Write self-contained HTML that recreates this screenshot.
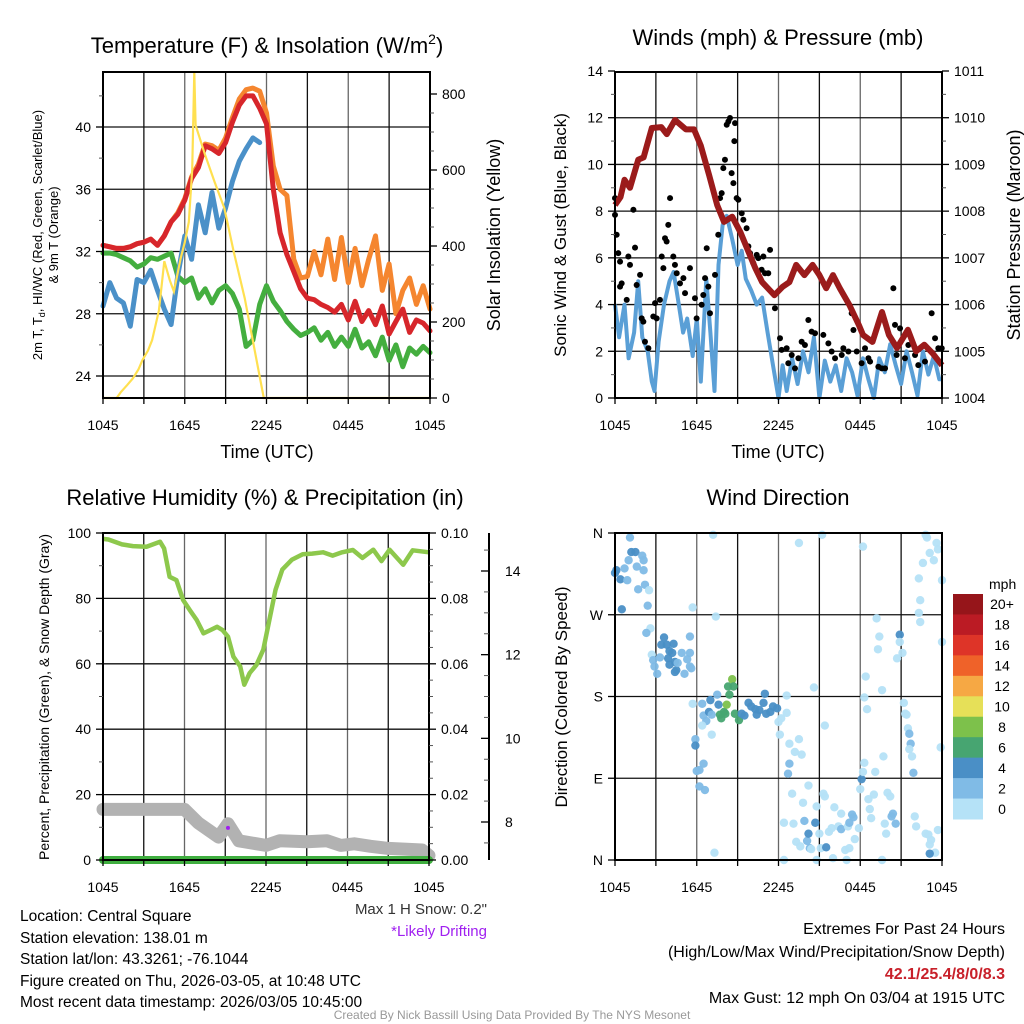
<!DOCTYPE html>
<html><head><meta charset="utf-8"><style>
html,body{margin:0;padding:0;background:#fff;width:1024px;height:1024px;overflow:hidden}
svg{font-family:"Liberation Sans",Arial,sans-serif}
</style></head><body>
<svg id="chart" width="1024" height="1024" viewBox="0 0 1024 1024" xmlns="http://www.w3.org/2000/svg">
<g id="layer-grid"></g>
<g id="layer-data"></g>
<g id="layer-axes"></g>
<g id="layer-text">
<text x="267" y="53" font-size="22" text-anchor="middle">Temperature (F) &amp; Insolation (W/m<tspan font-size="14" dy="-9">2</tspan><tspan dy="9">)</tspan></text>
<text x="778" y="45" font-size="22" text-anchor="middle">Winds (mph) &amp; Pressure (mb)</text>
<text x="265" y="505" font-size="22" text-anchor="middle">Relative Humidity (%) &amp; Precipitation (in)</text>
<text x="778" y="505" font-size="22" text-anchor="middle">Wind Direction</text>
<text x="267" y="458" font-size="18" text-anchor="middle">Time (UTC)</text>
<text x="778" y="458" font-size="18" text-anchor="middle">Time (UTC)</text>
<text transform="translate(42,235) rotate(-90)" font-size="13" text-anchor="middle"><tspan x="0" y="0">2m T, T<tspan font-size="9" dy="3">d</tspan><tspan dy="-3">, HI/WC (Red, Green, Scarlet/Blue)</tspan></tspan><tspan x="0" y="16">&amp; 9m T (Orange)</tspan></text>
<text transform="translate(500,235) rotate(-90)" font-size="18" text-anchor="middle">Solar Insolation (Yellow)</text>
<text transform="translate(566,235) rotate(-90)" font-size="17" text-anchor="middle">Sonic Wind &amp; Gust (Blue, Black)</text>
<text transform="translate(1020,235) rotate(-90)" font-size="18" text-anchor="middle">Station Pressure (Maroon)</text>
<text transform="translate(49,697) rotate(-90)" font-size="14" text-anchor="middle">Percent, Precipitation (Green), &amp; Snow Depth (Gray)</text>
<text transform="translate(567,697) rotate(-90)" font-size="17" text-anchor="middle">Direction (Colored By Speed)</text>
<text x="487" y="914" font-size="15" fill="#333" text-anchor="end">Max 1 H Snow: 0.2"</text>
<text x="487" y="936" font-size="15" fill="#a020f0" text-anchor="end">*Likely Drifting</text>
<g font-size="15.5">
<text x="20" y="921">Location: Central Square</text>
<text x="20" y="943">Station elevation: 138.01 m</text>
<text x="20" y="964">Station lat/lon: 43.3261; -76.1044</text>
<text x="20" y="986">Figure created on Thu, 2026-03-05, at 10:48 UTC</text>
<text x="20" y="1007">Most recent data timestamp: 2026/03/05 10:45:00</text>
</g>
<g font-size="16" text-anchor="end">
<text x="1005" y="934">Extremes For Past 24 Hours</text>
<text x="1005" y="957">(High/Low/Max Wind/Precipitation/Snow Depth)</text>
<text x="1005" y="979" fill="#c8202a" font-weight="bold">42.1/25.4/8/0/8.3</text>
<text x="1005" y="1003">Max Gust: 12 mph On 03/04 at 1915 UTC</text>
</g>
<text x="512" y="1019" font-size="12" fill="#999" text-anchor="middle">Created By Nick Bassill Using Data Provided By The NYS Mesonet</text>
</g>
</svg>
<script>
// ---------- data ----------
const tickHours=[0,6,12,18,24];
const tickLabels=["1045","1645","2245","0445","1045"];
const halfHours=[0,0.5,1,1.5,2,2.5,3,3.5,4,4.5,5,5.5,6,6.5,7,7.5,8,8.5,9,9.5,10,10.5,11,11.5,12,12.5,13,13.5,14,14.5,15,15.5,16,16.5,17,17.5,18,18.5,19,19.5,20,20.5,21,21.5,22,22.5,23,23.5,24];
const tempRed=[32.4,32.3,32.2,32.2,32.3,32.5,32.6,32.8,32.4,33.0,33.9,34.4,35.3,36.7,37.4,38.8,38.6,38.3,39.0,40.3,41.4,42.0,42.0,41.2,40.2,36.0,33.2,31.8,30.7,29.6,29.0,28.9,28.6,28.4,28.1,28.6,27.6,28.8,27.5,28.2,27.3,28.5,26.7,27.5,28.3,26.8,27.6,27.4,26.9];
const temp9m=[32.4,32.3,32.2,32.2,32.3,32.5,32.6,32.8,32.4,33.0,33.9,34.5,35.4,36.8,37.6,38.9,38.8,38.5,39.3,40.6,41.8,42.4,42.5,42.3,40.9,37.5,36.0,35.6,31.5,30.3,30.4,32.0,30.5,32.8,30.2,32.9,30.0,32.2,29.8,31.5,33.0,29.5,31.2,28.0,29.5,30.3,28.6,29.8,28.3];
const dewPoint=[31.9,31.9,31.8,31.6,31.4,31.0,31.2,31.6,31.5,31.7,31.9,30.4,30.0,30.3,29.0,29.6,28.7,29.5,29.8,29.3,28.3,25.9,26.3,28.6,29.8,28.8,28.2,27.5,27.0,26.6,26.8,27.1,26.3,26.8,25.9,26.5,25.9,27.0,25.8,26.2,25.3,26.5,25.0,26.0,24.6,25.8,25.4,25.9,25.5];
const windChill=[28.5,30.0,29.0,28.7,27.2,30.2,30.0,30.8,29.5,28.3,27.3,30.5,33.0,31.5,35.0,33.2,35.8,33.5,34.8,36.5,37.8,38.6,39.3,39.0,null,null,null,null,null,null,null,null,null,null,null,null,null,null,null,null,null,null,null,null,null,null,null,null,null];
const solarHours=[0,1,1.3,1.8,2.2,2.6,2.9,3.3,3.6,4.1,4.5,4.9,5.2,5.7,6.0,6.3,6.55,6.7,6.8,7.5,8.2,8.9,9.6,10.4,11.1,11.8,24];
const solarWm2=[0,0,15,35,52,75,100,125,152,230,360,310,280,368,410,463,600,858,718,639,568,500,384,263,132,0,0];
const windHours=[0,0.3,0.7,1,1.4,1.7,2,2.4,2.7,2.9,3.2,3.6,4,4.3,4.6,5,5.3,5.7,6,6.3,6.7,7,7.3,7.6,7.9,8.2,8.6,9,9.3,9.6,10,10.4,10.8,11.2,11.6,12,12.3,12.6,13,13.4,13.8,14.2,14.6,15,15.4,15.8,16.2,16.6,17,17.4,17.8,18.2,18.6,19,19.4,19.8,20.2,20.6,21,21.4,21.8,22.2,22.6,23,23.4,23.8,24];
const windSpeed=[4.0,2.6,4.0,1.7,2.8,5.0,2.6,2.0,0.7,0.3,2.4,4.0,5.0,5.4,4.3,2.8,3.4,1.8,3.4,0.7,5.1,2.8,0.3,5.7,7.4,7.8,6.8,5.7,6.3,5.1,4.6,4.0,4.3,2.8,1.4,0.0,1.4,0.3,1.7,0.6,2.0,1.1,2.6,0.0,1.6,0.7,1.4,0.3,1.7,1.1,0.1,1.7,0.8,0.0,1.7,1.1,2.3,1.4,0.6,2.0,1.1,0.1,2.0,1.0,1.8,0.8,0.8];
const gustHours=[0,0,0.12,0.24,0.37,0.37,0.49,0.86,0.98,1.1,1.35,1.47,1.59,1.84,1.96,2.08,2.2,2.45,2.81,2.94,3.06,3.3,3.43,3.55,3.67,3.79,3.91,4.04,4.28,4.4,4.53,4.77,5.02,5.14,5.5,5.87,5.99,6.36,6.48,6.61,6.73,6.85,6.97,7.34,7.58,7.71,7.83,7.95,8.07,8.2,8.32,8.44,8.56,8.69,8.76,8.81,8.93,9.05,9.3,9.42,9.66,9.79,9.91,10.15,10.4,10.52,10.76,10.89,11.01,11.25,11.38,11.74,12.11,12.23,12.6,12.72,12.97,13.21,13.46,13.7,13.94,14.19,14.43,14.68,15.29,15.66,15.9,16.15,16.64,16.76,17.13,17.37,17.5,17.74,18.1,18.35,18.6,18.72,19.33,19.58,19.82,20.43,20.55,20.67,20.92,21.28,21.53,22.02,22.26,22.75,23.24,23.49,23.73,23.98];
const gustSpeed=[7.84,8.56,6.99,6.2,5.84,4.77,4.91,4.2,6.06,5.7,8.06,6.44,4.84,5.27,3.41,3.27,2.41,2.13,3.49,4.06,3.41,4.2,6.06,5.56,6.84,6.7,7.41,8.56,6.06,5.7,5.34,4.91,5.13,4.49,5.56,4.27,3.41,3.99,4.41,5.13,6.41,4.77,3.63,5.27,6.99,8.56,8.77,9.84,10.2,11.7,11.84,11.99,9.63,9.2,11.0,11.77,8.56,8.49,7.91,7.63,7.27,6.49,6.2,5.77,6.13,5.99,5.49,6.06,5.34,5.34,6.34,3.84,2.56,2.06,2.13,1.49,1.84,1.27,1.7,2.41,2.27,3.34,2.84,2.77,2.7,2.34,1.99,1.7,1.84,2.13,1.99,3.63,2.91,1.99,1.49,2.13,1.7,1.56,1.34,1.27,1.27,4.7,3.13,1.84,2.98,1.7,2.27,1.84,1.41,1.56,3.63,2.56,2.13,2.13];
const pressHours=[0,0.4,0.7,1.1,1.7,2.1,2.7,3.4,3.8,4.4,5.2,5.8,6.3,6.9,7.5,8.0,8.6,9.2,9.8,10.3,10.8,11.7,12.3,12.8,13.3,13.9,14.5,15,15.5,16,16.5,17.2,17.9,18.2,18.9,19.6,20.1,20.7,21.5,22.1,22.7,23.3,24];
const pressureMb=[1008.13,1008.3,1008.67,1008.5,1009.1,1009.15,1009.78,1009.8,1009.65,1009.95,1009.75,1009.75,1009.4,1008.78,1008.13,1007.77,1007.88,1007.55,1007.13,1006.78,1006.48,1006.2,1006.38,1006.48,1006.85,1006.63,1006.85,1006.63,1006.35,1006.63,1006.35,1005.99,1005.56,1005.35,1005.2,1005.84,1005.35,1005.07,1005.46,1005.0,1005.14,1004.96,1004.7];
const rhHours=[0,0.4,1.4,2.2,3.2,4.2,4.5,4.9,5.4,5.9,6.4,6.9,7.4,7.9,8.4,8.8,9.2,9.6,10.1,10.4,10.8,11.3,11.8,12.3,12.7,13.2,13.9,14.7,15.4,16.2,16.9,17.6,18.4,19.1,19.9,20.5,21.1,22.1,22.8,24];
const rhPercent=[98.2,98.0,96.5,96.0,95.8,97.3,95.3,86.6,85.6,79.5,76.4,73.4,69.3,70.3,71.3,70.3,68.3,62.2,59.2,53.6,57.2,59.7,64.3,74.5,82.6,88.8,91.8,93.5,93.7,94.1,93.1,94.1,94.8,92.4,94.9,91.4,94.9,90.3,94.7,94.1];
const snowHours=[0,6,7,8.5,9.2,10,12,13,15,16.5,17.5,18.5,19.7,21,23.5,24];
const snowDepth=[8.3,8.3,7.98,7.64,7.96,7.55,7.44,7.55,7.53,7.55,7.44,7.48,7.42,7.37,7.33,7.2];
const precipIn=[0,0];
const precipHours=[0,24];
const dirHours=[0,0.1,0.4,0.5,0.7,0.9,1.0,1.1,1.2,1.5,1.6,1.7,2.0,2.1,2.1,2.2,2.4,2.5,2.6,2.3,
2.7,2.8,2.9,3.1,3.3,3.4,3.6,3.8,4.0,4.2,3.9,4.4,4.5,4.6,4.9,5.1,5.3,5.5,5.6,5.5,5.5,4.3,4.4,4.0,5.7,7.4,
5.7,6.4,6.5,6.7,6.9,7.0,7.1,7.5,7.6,7.7,7.8,8.0,8.1,8.2,8.3,8.4,8.6,8.7,8.8,9.1,9.3,9.5,9.8,10.0,10.3,10.4,10.6,10.9,11.0,11.1,11.4,11.6,11.9,12.0,12.1,12.2,12.6,12.6,7.1,6.4,5.9,5.9,6.0,6.2,6.5,6.2,6.6,
12.8,13.0,13.2,13.5,13.7,12.8,12.7,12.4,13.1,13.3,13.6,13.8,13.9,14.1,14.2,14.3,14.2,14.4,14.7,14.8,15.0,15.1,15.3,15.4,15.5,15.7,15.9,16.1,16.4,16.6,16.6,16.9,17.1,17.2,17.4,17.5,17.2,17.6,17.9,18.0,18.1,18.2,18.3,18.3,18.4,18.5,18.6,18.7,18.8,19.0,19.1,19.2,19.3,19.4,19.6,19.7,19.8,19.9,20.0,20.2,20.3,20.4,20.6,20.7,20.9,20.9,21.1,21.2,21.3,21.4,21.5,21.6,21.7,21.6,21.8,21.9,22.0,22.1,22.3,22.4,22.4,22.3,22.6,22.8,22.9,23.1,23.4,23.6,23.7,24.0,24.0,23.9,23.7,23.5,23.1,23.2,23.0,22.8,23.1,
7.2,7.3,15.2,13.5,18.2,14.6,15.4,19.6,12.4,14.8,16.0,17.0];
const dirDegrees=[316,319,309,276,321,308,330,355,339,339,323,298,335,330,319,303,280,297,255,250,
226,220,213,205,223,237,245,237,230,228,222,218,209,217,228,205,221,213,211,228,246,238,207,215,278,268,
172,172,159,153,163,176,160,182,171,160,156,163,161,171,191,182,199,191,161,154,161,159,173,169,166,160,165,173,183,161,163,169,167,152,138,156,181,162,138,148,133,126,98,99,106,81,77,
128,73,119,133,116,106,95,41,40,20,15,63,43,21,29,13,82,12,41,59,29,13,73,70,14,31,35,58,37,34,51,11,37,13,50,47,41,23,35,78,89,97,107,179,202,166,67,56,46,72,97,266,232,246,187,114,40,29,74,70,48,51,40,222,248,240,228,173,161,160,145,139,128,122,114,96,48,37,272,262,286,310,327,358,355,338,330,349,342,308,240,124,33,8,7,22,28,29,17,
358,8,358,349,345,190,148,0,0,0,2,0];
const dirSpeed=[5,5,5,5,3,3,3,3,5,5,3,3,3,3,3,3,3,1,1,3,
1,3,3,3,3,5,5,5,5,5,5,5,5,3,3,3,3,3,3,3,3,5,5,5,1,1,
1,3,3,3,5,5,3,3,5,7,7,7,7,9,7,7,9,7,7,7,5,5,5,5,5,5,5,5,5,5,5,5,5,1,1,1,1,1,1,1,3,5,3,3,3,3,3,
1,1,1,1,1,3,3,1,1,1,1,1,3,3,5,3,1,1,5,1,1,1,1,1,5,1,1,1,1,3,1,1,1,1,3,3,3,1,1,1,5,1,1,1,1,1,1,1,1,1,1,1,1,1,1,1,1,1,1,1,3,3,3,1,5,1,1,1,1,1,1,3,3,1,1,3,1,1,1,1,1,1,1,1,1,1,1,1,1,1,1,1,1,1,5,1,1,1,1,1,
1,1,1,1,1,1,1,1,1,1,1,1];
const speedBins=["0","2","4","6","8","10","12","14","16","18","20+"];
const speedColors=["#b5e2f7","#80bbe6","#4a8fc6","#47a571","#7dc14b","#e6e058","#f6a844","#ef6229","#de3428","#bb1b24","#96151a"];

// ---------- helpers ----------
const NS="http://www.w3.org/2000/svg";
const gGrid=document.getElementById('layer-grid');
const gData=document.getElementById('layer-data');
const gAxes=document.getElementById('layer-axes');
function mk(tag,attrs,parent){const e=document.createElementNS(NS,tag);for(const k in attrs)e.setAttribute(k,attrs[k]);parent.appendChild(e);return e;}
function txt(s,attrs,parent){const e=mk('text',attrs,parent);e.textContent=s;return e;}
function xScale(L,R){return h=>L+(R-L)*h/24;}
function lineScale(v0,y0,v1,y1){return v=>y0+(v-v0)*(y1-y0)/(v1-v0);}
function pathFrom(xs,ys,X,Y){let d='',pen=false;for(let i=0;i<xs.length;i++){if(ys[i]===null){pen=false;continue;}d+=(pen?'L':'M')+X(xs[i]).toFixed(1)+','+Y(ys[i]).toFixed(1);pen=true;}return d;}

const panels={
 temp:{L:103,R:430,T:72,B:398},
 wind:{L:615,R:942,T:72,B:398},
 rh:{L:103,R:429,T:533,B:860},
 dir:{L:615,R:942,T:533,B:860}
};
function frame(p,name,hlines,Y){
 const X=xScale(p.L,p.R);
 for(let h=3;h<24;h+=3){const l=mk('line',{x1:X(h),x2:X(h),y1:p.T,y2:p.B,stroke:(h%6==0)?'#666':'#111','stroke-width':1.3},gGrid);
  
  }
 hlines.forEach(v=>{const l=mk('line',{x1:p.L,x2:p.R,y1:Y(v),y2:Y(v),stroke:'#111','stroke-width':1.3},gGrid);
  
  });
 const r=mk('rect',{x:p.L,y:p.T,width:p.R-p.L,height:p.B-p.T,fill:'none',stroke:'#000','stroke-width':2},gAxes);
 
 
 for(let h=0;h<=24;h+=3){mk('line',{x1:X(h),x2:X(h),y1:p.B,y2:p.B+6,stroke:'#000','stroke-width':1.3},gAxes);}
 tickHours.forEach((h,i)=>{const t=txt(tickLabels[i],{x:X(h),y:p.B+32,'font-size':14,'text-anchor':'middle'},gAxes);
  
  });
 return X;
}
function yTicks(x,vals,labels,Y,side,name,minor){
 vals.forEach((v,i)=>{mk('line',{x1:x,x2:x+(side<0?-7:7),y1:Y(v),y2:Y(v),stroke:'#000','stroke-width':1.3},gAxes);
  const t=txt(labels[i],{x:x+(side<0?-12:12),y:Y(v)+5,'font-size':14,'text-anchor':side<0?'end':'start'},gAxes);
  
  });
 (minor||[]).forEach(v=>mk('line',{x1:x,x2:x+(side<0?-4:4),y1:Y(v),y2:Y(v),stroke:'#555','stroke-width':1},gAxes));
}

// ---------- panel 1 ----------
{const p=panels.temp;const Yt=lineScale(24,376,40,127);const Yi=lineScale(0,398,800,94);
 const X=frame(p,'temp',[24,28,32,36,40],Yt);
 yTicks(p.L,[24,28,32,36,40],["24","28","32","36","40"],Yt,-1,'temp-y',[26,30,34,38,42]);
 yTicks(p.R,[0,200,400,600,800],["0","200","400","600","800"],Yi,1,'insolation-y',[50,100,150,250,300,350,450,500,550,650,700,750]);
 const series=[[halfHours,temp9m,'#f5862f','nine-meter-temp-line'],[halfHours,tempRed,'#d7262b','temperature-line'],[halfHours,dewPoint,'#44ae3f','dewpoint-line'],[halfHours,windChill,'#4a90c8','wind-chill-line']];
 series.forEach(s=>{const e=mk('path',{d:pathFrom(s[0],s[1],X,Yt),fill:'none',stroke:s[2],'stroke-width':5,'stroke-linejoin':'round','stroke-linecap':'round'},gData);
  
  });
 const ins=mk('path',{d:pathFrom(solarHours,solarWm2,X,Yi),fill:'none',stroke:'#ffe050','stroke-width':2.2},gData);
 
 
}
// ---------- panel 2 ----------
{const p=panels.wind;const Yw=lineScale(0,398,14,71);const Yp=lineScale(1004,398,1011,71);
 const X=frame(p,'wind',[2,4,6,8,10,12],Yw);
 yTicks(p.L,[0,2,4,6,8,10,12,14],["0","2","4","6","8","10","12","14"],Yw,-1,'wind-y',[1,3,5,7,9,11,13]);
 yTicks(p.R,[1004,1005,1006,1007,1008,1009,1010,1011],["1004","1005","1006","1007","1008","1009","1010","1011"],Yp,1,'pressure-y',[1004.5,1005.5,1006.5,1007.5,1008.5,1009.5,1010.5]);
 const w=mk('path',{d:pathFrom(windHours,windSpeed,X,Yw),fill:'none',stroke:'#5a9fd6','stroke-width':4,'stroke-linejoin':'round'},gData);
 
 
 gustHours.forEach((h,i)=>{const c=mk('circle',{cx:X(h),cy:Yw(gustSpeed[i]),r:3,fill:'#000'},gData);
  
  });
 const pr=mk('path',{d:pathFrom(pressHours,pressureMb,X,Yp),fill:'none',stroke:'#9b1b1b','stroke-width':6,'stroke-linejoin':'round'},gData);
 
 
}
// ---------- panel 3 ----------
{const p=panels.rh;const Yr=lineScale(0,860,100,533);const Ypr=lineScale(0,860,0.1,533);const Ys=lineScale(8,822,14,571);
 const X=frame(p,'rh',[20,40,60,80],Yr);
 yTicks(p.L,[0,20,40,60,80,100],["0","20","40","60","80","100"],Yr,-1,'rh-y',[10,30,50,70,90]);
 yTicks(p.R,[0,0.02,0.04,0.06,0.08,0.1],["0.00","0.02","0.04","0.06","0.08","0.10"],Ypr,1,'precip-y',[0.005,0.01,0.015,0.025,0.03,0.035,0.045,0.05,0.055,0.065,0.07,0.075,0.085,0.09,0.095]);
 const ax=mk('line',{x1:489,x2:489,y1:533,y2:860,stroke:'#000','stroke-width':2},gAxes);
 
 
 [8,10,12,14].forEach(v=>{mk('line',{x1:489,x2:481,y1:Ys(v),y2:Ys(v),stroke:'#000','stroke-width':1.3},gAxes);
  const t=txt(String(v),{x:505,y:Ys(v)+5,'font-size':14},gAxes);
  
  });
 [7.5,8.5,9,9.5,10.5,11,11.5,12.5,13,13.5,14.5].forEach(v=>mk('line',{x1:489,x2:484,y1:Ys(v),y2:Ys(v),stroke:'#555','stroke-width':1},gAxes));
 const sd=mk('path',{d:pathFrom(snowHours,snowDepth,X,Ys),fill:'none',stroke:'#b2b2b2','stroke-width':13,'stroke-linejoin':'round','stroke-linecap':'round'},gData);
 
 
 const dr=mk('circle',{cx:X(9.2),cy:Ys(7.86),r:2,fill:'#a020f0'},gData);
 
 
 const rh=mk('path',{d:pathFrom(rhHours,rhPercent,X,Yr),fill:'none',stroke:'#8dc84c','stroke-width':4.5,'stroke-linejoin':'round'},gData);
 
 
 const pc=mk('path',{d:pathFrom(precipHours,precipIn,X,Ypr),fill:'none',stroke:'#3fae3f','stroke-width':8,'stroke-linecap':'round'},gData);
 
 
}
// ---------- panel 4 ----------
{const p=panels.dir;const Yd=lineScale(0,860,360,533);
 const X=frame(p,'dir',[90,180,270],Yd);
 yTicks(p.L,[0,90,180,270,360],["N","E","S","W","N"],Yd,-1,'direction-y',[]);
 dirHours.forEach((h,i)=>{const bin=Math.min(10,Math.floor(dirSpeed[i]/2));
  const c=mk('circle',{cx:X(h),cy:Yd(dirDegrees[i]),r:4.2,fill:speedColors[bin],'fill-opacity':0.95},gData);
  
  });
 const cb=mk('g',{},gAxes);
 
 
 txt('mph',{x:989,y:589,'font-size':14},cb);
 const top=594,bh=(819-594)/11;
 speedBins.forEach((lab,i)=>{const k=10-i;
  mk('rect',{x:953,y:top+i*bh,width:30,height:bh+0.5,fill:speedColors[k]},cb);
  const t=txt(speedBins[k],{x:1002,y:top+i*bh+bh/2+5,'font-size':14,'text-anchor':'middle'},cb);
  
  });
}
</script>
</body></html>
